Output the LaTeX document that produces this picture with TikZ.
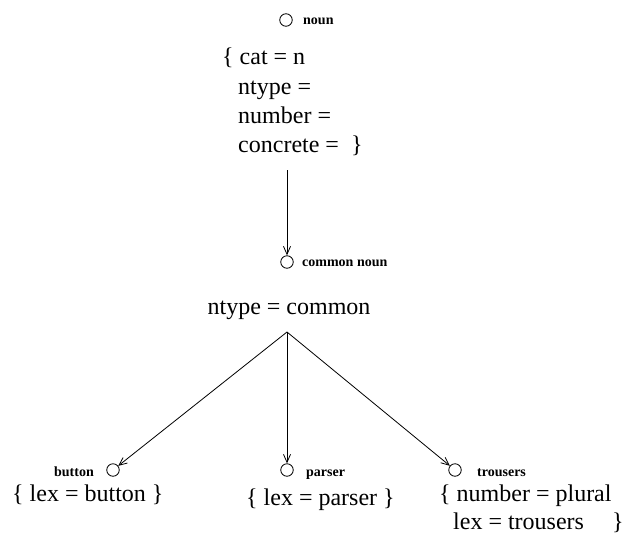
\documentclass[tikz,border=0pt]{standalone}
\usepackage{fontspec}
\setmainfont{Liberation Serif}
\usetikzlibrary{arrows.meta}
\begin{document}
\begin{tikzpicture}[x=1pt,y=-1pt,
  circ/.style={circle,draw,line width=0.8pt,minimum size=12.5pt,inner sep=0pt},
  lab/.style={inner sep=0pt,font=\fontsize{14}{16}\selectfont\bfseries},
  txt/.style={inner sep=0pt,font=\fontsize{24}{29}\selectfont},
  arr/.style={line width=0.8pt,-{Straight Barb[length=8pt,width=7pt]}}]
\useasboundingbox (0,0) rectangle (629,533);
% noun
\node[circ] (noun) at (286,20) {};
\node[lab,anchor=base west] (nounlab) at (303,24) {noun};
\node[txt,anchor=base west] (l1) at (222,64) {\{ cat = n};
\node[txt,anchor=base west] (l2) at (238,94) {ntype =};
\node[txt,anchor=base west] (l3) at (238,123) {number =};
\node[txt,anchor=base west] (l4) at (238,152) {concrete =};
\node[txt,anchor=base west] (r4) at (351,152) {\}};
\coordinate (top) at (287,170);
% common noun
\node[circ] (cn) at (287,262) {};
\node[lab,anchor=base west] (cnlab) at (302,266) {common noun};
\draw[arr] (top) -- (cn);
\node[txt,anchor=base] (cntxt) at (289,314) {ntype = common};
\coordinate (apex) at (287,332);
% leaves
\node[circ] (button) at (113,470) {};
\node[lab,anchor=base east] (buttonlab) at (94,476) {button};
\node[txt,anchor=base west] (buttontxt) at (12,501) {\{ lex = button \}};
\node[circ] (parser) at (287,470) {};
\node[lab,anchor=base west] (parserlab) at (306,476) {parser};
\node[txt,anchor=base west] (parsertxt) at (246,505) {\{ lex = parser \}};
\node[circ] (trousers) at (455,470) {};
\node[lab,anchor=base west] (trouserslab) at (477,476) {trousers};
\node[txt,anchor=base west] (t1) at (439,501) {\{ number = plural};
\node[txt,anchor=base west] (t2) at (453,529) {lex = trousers};
\node[txt,anchor=base west] (t3) at (612,529) {\}};
\draw[arr] (apex) -- (button);
\draw[arr] (apex) -- (parser);
\draw[arr] (apex) -- (trousers);
\end{tikzpicture}
\end{document}
